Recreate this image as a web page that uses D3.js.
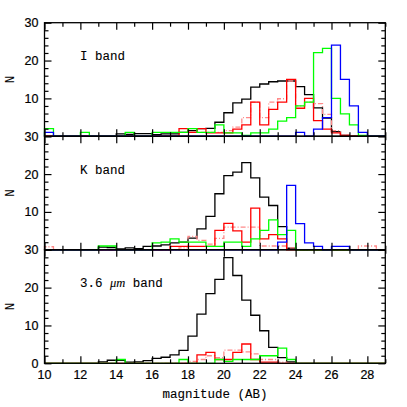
<!DOCTYPE html>
<html>
<head>
<meta charset="utf-8">
<script src="https://cdn.jsdelivr.net/npm/d3@7"></script>
<style>
  body { margin: 0; background: #fff; }
  .tick-label { font-family: "Liberation Sans", Arial, sans-serif; font-size: 12.5px; fill: #000; stroke: #000; stroke-width: 0.2px; }
  .title { font-family: "Liberation Mono", "DejaVu Sans Mono", monospace; font-size: 12.5px; fill: #000; stroke: #000; stroke-width: 0.1px; }
</style>
</head>
<body>
<div id="chart"></div>
<script>
// histogram bins: 0.5 mag wide, first bin starts at mag 10 (38 bins up to 29)
const binStart = 10, binWidth = 0.5

// I band
const iBlack   = [0,0,0,0,0,0,0,0, 0.6,0.5,0.7,0.7,0.4,0.6,0.6,1, 1.5,2,2.1,3.7,6.2,8.8,9.8,13, 13.8,14.4,14.6,14.6,13.1,11,7.5,4.8, 1.2,0.2,0,0,0,0]
const iRed     = [0,0,0,0,0,0,0,0, 0,0,0,0,0,0,0,2, 1,2,0.9,0.9,0.9,1.9,3,9, 3,7.1,9,15,7.4,10,4.1,1.9, 0.9,0.2,0,0,0,0]
const iRedDash = [0,0,0,0,0,0,0,0, 0,0,0,0,0,0,0,0, 1,1,1,1,1.5,2.4,4.9,9, 4.9,9,9.9,14.6,8,9,8.6,5.8, 1.5,0.3,0,0,0,0]
const iGreen   = [2,0,0,0,1,0,0,0, 0,1,0,0,1,1,1,1, 2,1,1,3,0.9,0.9,0.2,0.9, 0.9,1.9,4,4.9,8,9,22.1,23.2, 10,5.9,3,0.2,0,0]
const iBlue    = [1,0,0,0,0,0,0,0, 0,0,0,0,0,0,0,0, 0,0,0,0,0,0,0,0, 0,0,0,0,1,0,1.9,4.9, 24.1,15,8,1,0,0]

// K band
const kBlack   = [0,0,0,0,0,0,0.7,0.6, 0.2,0.5,0.3,0.9,1,1.3,1.8,2, 3.1,5.5,8.8,14.8,19.6,20.5,23,19, 13.9,11.7,6.1,0.4,0,0,0,0, 0,0,0,0,0,0]
const kRed     = [0,0,0,0,0,0,0,0, 0,0,0,0,0,0,0.9,0.9, 0.9,0.9,0.9,5.1,7,5,2,11, 2.9,4,2.9,0,0,0,0,0, 0,0,0,0,0,0]
const kRedDash = [0.8,0,0,0,0,0,0,0, 0,0,0,0,0,0,0,0.5, 3.5,2.5,1.5,3,6,6,6,6, 1,1,1,0.5,0,0,0,0, 0,0,0,1,1,0]
const kGreen   = [0,0,0,0,0,0,1,1, 0,0,0,0,1.8,2,2.9,2, 2,2,0.9,0.9,2,2,0.9,2.9, 5.1,7.9,4,5.1,0,0,0,0, 0,0,0,0,0,0]
const kBlue    = [0,0,0,0,0,0,0,0, 0,0,0,0,0,0,0,0, 0,0,0,0,0,0,0,0, 0,0,2,17,6.9,1.8,0.9,0, 0.9,0.9,0,0,0,0]

// 3.6 micron band
const mBlack   = [0,0,0,0,0,0,0.4,0.8, 0.8,0.3,0.4,0.7,1.3,1.6,2.2,3.4, 7.2,13,18.4,22.2,27.9,23.2,16.7,12.7, 8.6,4.2,1.5,0.4,0,0,0,0, 0,0,0,0,0,0]
const mRed     = [0,0,0,0,0,0,0,0, 0,0,0,0,0,0,0,0, 0,2.2,2.9,1,1,2.9,5.1,1, 0.3,0.3,0,0,0,0,0,0, 0,0,0,0,0,0]
const mRedDash = [0,0,0,0,0,0,0,0, 0,0,0,0,0,0,0,0, 0.5,1,2,1.5,3.5,3.5,3,2.5, 1,1,0.3,0,0,0,0,0, 0,0,0,0,0,0]
const mGreen   = [0,0,0,0,0,0,0,0, 1,0,0,0,0,0,0,1, 0,0,0,1,0.5,1,1,1, 2,2,4,1,0,0,0,0, 0,0,0,0,0,0]

const bandNames = ["I", "K", "3.6 "]
const xTickLabels = [10, 12, 14, 16, 18, 20, 22, 24, 26, 28]
const yTickLabels = [0, 10, 20, 30]
const xTitle = "magnitude (AB)"
const yTitle = "N"

const panels = [
  {name: bandNames[0], series: {black: iBlack, redDash: iRedDash, red: iRed, green: iGreen, blue: iBlue}},
  {name: bandNames[1], series: {black: kBlack, redDash: kRedDash, red: kRed, green: kGreen, blue: kBlue}},
  {name: bandNames[2], series: {black: mBlack, redDash: mRedDash, red: mRed, green: mGreen}}
]

const styles = {
  black:   {color: "#000000", dash: null},
  redDash: {color: "#ff8a8a", dash: "5,2,1,2"},
  red:     {color: "#ff0000", dash: null},
  green:   {color: "#00ff00", dash: null},
  blue:    {color: "#0000ff", dash: null}
}

const W = 407, H = 407
const plotL = 44.5, plotR = 385.3, plotT = 22.7, plotB = 363.3
const panelH = (plotB - plotT) / 3

const svg = d3.select("#chart").append("svg")
  .attr("width", W).attr("height", H)

const x = d3.scaleLinear().domain([10, 29]).range([plotL, plotR])

const line = d3.line().curve(d3.curveStepAfter)

panels.forEach(function (p, k) {
  const pTop = plotT + k * panelH
  const y = d3.scaleLinear().domain([0, 30]).range([pTop + panelH, pTop])
  const g = svg.append("g")

  // histograms
  Object.keys(p.series).forEach(function (key) {
    const vals = p.series[key]
    const pts = [[binStart, 0]]
    vals.forEach((v, i) => pts.push([binStart + i * binWidth, v]))
    pts.push([binStart + vals.length * binWidth, 0])
    g.append("path")
      .attr("d", line(pts.map(d => [x(d[0]), y(d[1])])))
      .attr("fill", "none")
      .attr("stroke", styles[key].color)
      .attr("stroke-width", 1.3)
      .attr("stroke-dasharray", styles[key].dash)
  })

  // x ticks, inward on top and bottom
  const xMajor = d3.range(10, 29.01, 2), xMinor = d3.range(11, 29.01, 2)
  const axes = [
    [d3.axisTop, pTop], [d3.axisBottom, pTop + panelH]
  ]
  axes.forEach(function (a) {
    g.append("g").attr("transform", `translate(0,${a[1]})`)
      .call(a[0](x).tickValues(xMajor).tickSize(-7).tickFormat(""))
      .call(s => s.select(".domain").remove())
    g.append("g").attr("transform", `translate(0,${a[1]})`)
      .call(a[0](x).tickValues(xMinor).tickSize(-4).tickFormat(""))
      .call(s => s.select(".domain").remove())
  })
  // y ticks, inward on left and right
  const yMajor = [0, 10, 20, 30], yMinor = d3.range(2, 30, 2).filter(v => v % 10 != 0)
  ;[[d3.axisLeft, plotL], [d3.axisRight, plotR]].forEach(function (a) {
    g.append("g").attr("transform", `translate(${a[1]},0)`)
      .call(a[0](y).tickValues(yMajor).tickSize(-7).tickFormat(""))
      .call(s => s.select(".domain").remove())
    g.append("g").attr("transform", `translate(${a[1]},0)`)
      .call(a[0](y).tickValues(yMinor).tickSize(-4).tickFormat(""))
      .call(s => s.select(".domain").remove())
  })
  g.selectAll(".tick line").attr("stroke", "#000").attr("stroke-width", 1.2)

  // frame
  g.append("rect")
    .attr("x", plotL).attr("y", pTop)
    .attr("width", plotR - plotL).attr("height", panelH)
    .attr("fill", "none").attr("stroke", "#000").attr("stroke-width", 1.3)

  // y tick labels (0 only on the lowest panel, others are covered by the 30 below)
  const labs = k < 2 ? yTickLabels.slice(1) : yTickLabels
  g.selectAll(".ylab").data(labs).join("text")
    .attr("class", "tick-label")
    .attr("x", plotL - 6).attr("y", d => y(d))
    .attr("dy", "0.36em")
    .attr("text-anchor", "end")
    .text(d => d)

  // y title
  g.append("text").attr("class", "title")
    .attr("transform", `translate(14,${pTop + panelH / 2}) rotate(-90)`)
    .attr("text-anchor", "middle")
    .text(yTitle)

  // band name
  const t = g.append("text").attr("class", "title")
    .attr("x", 80).attr("y", pTop + 37.5)
  t.append("tspan").text(p.name)
  if (k == 2) {
    t.append("tspan").attr("font-style", "italic").attr("font-family", "Liberation Serif, serif").text("\u03bcm")
  }
  t.append("tspan").text(" band")
})

// x tick labels on the bottom panel
svg.selectAll(".xlab").data(xTickLabels).join("text")
  .attr("class", "tick-label")
  .attr("x", d => x(d)).attr("y", 378.5)
  .attr("text-anchor", "middle")
  .text(d => d)

svg.append("text").attr("class", "title")
  .attr("x", (plotL + plotR) / 2).attr("y", 398)
  .attr("text-anchor", "middle")
  .text(xTitle)
</script>
</body>
</html>
